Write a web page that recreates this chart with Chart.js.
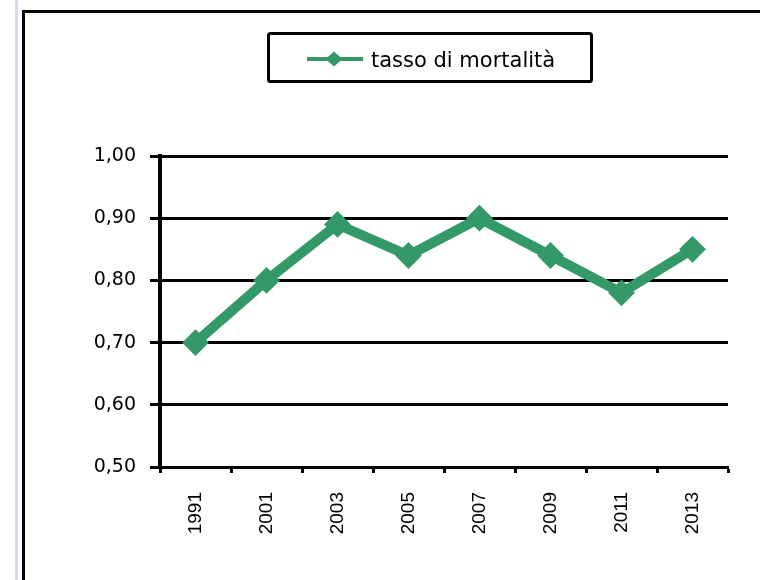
<!DOCTYPE html>
<html lang="it">
<head>
<meta charset="utf-8">
<title>Tasso di mortalità</title>
<script src="https://cdn.jsdelivr.net/npm/chart.js@4.4.0/dist/chart.umd.min.js"></script>
<style>
  html, body { margin: 0; padding: 0; background: #fff; overflow: hidden; }
  body { width: 760px; height: 580px; position: relative; }
  .striscia { position: absolute; left: 15px; top: 0; width: 3px; height: 580px; background: #d3dce8; }
  .cornice { position: absolute; left: 22px; top: 10px; width: 800px; height: 640px; border-left: 3px solid #000; border-top: 3px solid #000; }
  canvas { position: absolute; left: 0; top: 0; }
</style>
</head>
<body>
<div class="striscia"></div>
<div class="cornice"></div>
<canvas id="mortalitaChart" width="760" height="580"></canvas>
<script>
const anni = ['1991', '2001', '2003', '2005', '2007', '2009', '2011', '2013'];
const tassoMortalita = [0.70, 0.80, 0.89, 0.84, 0.90, 0.84, 0.78, 0.85];
const valoriAsseY = [0.50, 0.60, 0.70, 0.80, 0.90, 1.00];

const verde = '#339966';

// riquadro della legenda con linea e rombo
const legendaRiquadro = {
    id: 'legendaRiquadro',
    afterDraw(chart) {
        const c = chart.ctx;
        const ds = chart.data.datasets[0];
        c.save();
        c.strokeStyle = '#000';
        c.lineWidth = 3;
        c.beginPath();
        c.roundRect(268.5, 33.5, 323, 48, 2);
        c.stroke();

        c.strokeStyle = ds.borderColor;
        c.lineWidth = 4;
        c.beginPath();
        c.moveTo(307, 59);
        c.lineTo(363, 59);
        c.stroke();

        c.fillStyle = ds.borderColor;
        c.beginPath();
        c.moveTo(334, 51.5);
        c.lineTo(342.5, 59);
        c.lineTo(334, 66.5);
        c.lineTo(325.5, 59);
        c.closePath();
        c.fill();

        c.fillStyle = '#000';
        c.font = '21px "DejaVu Sans"';
        c.textBaseline = 'alphabetic';
        c.fillText(ds.label, 371, 67);
        c.restore();
    }
};

const ctx = document.getElementById('mortalitaChart').getContext('2d');
new Chart(ctx, {
    type: 'line',
    data: {
        labels: anni,
        datasets: [{
            label: 'tasso di mortalità',
            data: tassoMortalita,
            borderColor: verde,
            backgroundColor: verde,
            borderWidth: 10,
            pointStyle: 'rectRot',
            pointRadius: 12,
            pointHoverRadius: 12,
            pointBorderWidth: 2,
            tension: 0,
            fill: false
        }]
    },
    options: {
        responsive: false,
        animation: false,
        layout: {
            padding: { top: 156, right: 32, bottom: 0, left: 0 }
        },
        plugins: {
            legend: { display: false },
            tooltip: { enabled: false }
        },
        scales: {
            x: {
                offset: true,
                grid: {
                    offset: true,
                    drawOnChartArea: false,
                    drawTicks: true,
                    tickLength: 6,
                    tickWidth: 3,
                    tickColor: '#000'
                },
                border: { color: '#000', width: 3 },
                ticks: {
                    minRotation: 90,
                    maxRotation: 90,
                    padding: 19,
                    color: '#000',
                    font: { family: 'Liberation Sans', size: 19 }
                },
                afterFit: s => { s.height = 113; }
            },
            y: {
                min: valoriAsseY[0],
                max: valoriAsseY[valoriAsseY.length - 1],
                afterBuildTicks: s => { s.ticks = valoriAsseY.map(v => ({ value: v })); },
                grid: {
                    color: '#000',
                    lineWidth: 3,
                    tickLength: 10
                },
                border: { color: '#000', width: 4 },
                ticks: {
                    padding: 14,
                    color: '#000',
                    font: { family: 'DejaVu Sans', size: 19 },
                    callback: v => v.toFixed(2).replace('.', ',')
                },
                afterFit: s => { s.width = 160; }
            }
        }
    },
    plugins: [legendaRiquadro]
});
</script>
</body>
</html>
